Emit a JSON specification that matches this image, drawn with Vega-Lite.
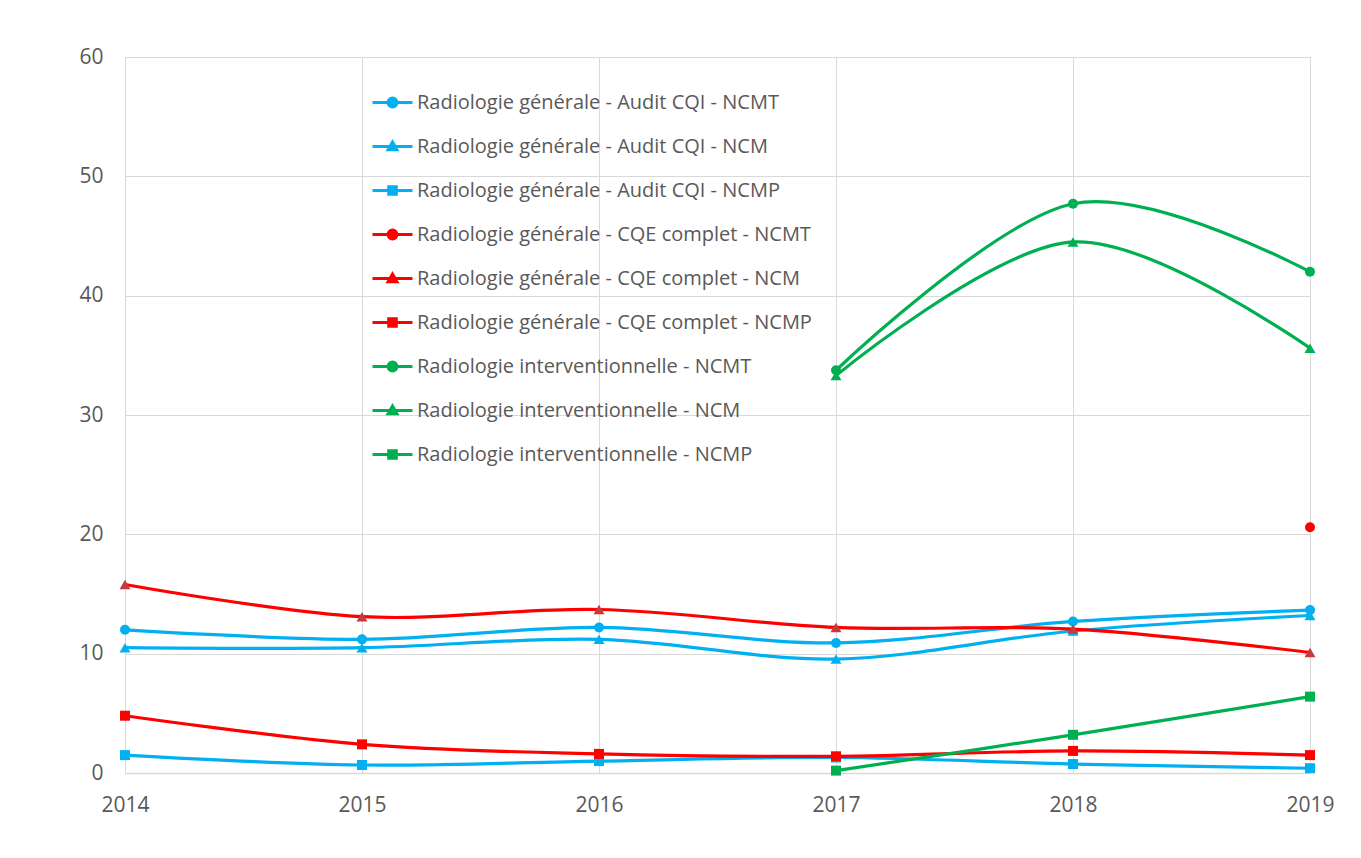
{
  "$schema": "https://vega.github.io/schema/vega-lite/v6.json",
  "width": 1185,
  "height": 716,
  "autosize": {"type": "none"},
  "padding": {"left": 125, "top": 57, "right": 51, "bottom": 85},
  "background": "white",
  "config": {
    "view": {"stroke": null},
    "font": "Open Sans",
    "axis": {"labelFont": "Open Sans", "labelFontSize": 21, "labelColor": "#595959", "gridColor": "#D9D9D9", "gridWidth": 1, "ticks": false},
    "legend": {"labelFont": "Open Sans", "labelFontSize": 20, "labelColor": "#595959"}
  },
  "data": {
    "values": [
      {"year": 2014, "series": "Radiologie générale - Audit CQI - NCMT", "value": 12.0},
      {"year": 2015, "series": "Radiologie générale - Audit CQI - NCMT", "value": 11.2},
      {"year": 2016, "series": "Radiologie générale - Audit CQI - NCMT", "value": 12.2},
      {"year": 2017, "series": "Radiologie générale - Audit CQI - NCMT", "value": 10.9},
      {"year": 2018, "series": "Radiologie générale - Audit CQI - NCMT", "value": 12.7},
      {"year": 2019, "series": "Radiologie générale - Audit CQI - NCMT", "value": 13.65},
      {"year": 2014, "series": "Radiologie générale - Audit CQI - NCM", "value": 10.5},
      {"year": 2015, "series": "Radiologie générale - Audit CQI - NCM", "value": 10.5},
      {"year": 2016, "series": "Radiologie générale - Audit CQI - NCM", "value": 11.2},
      {"year": 2017, "series": "Radiologie générale - Audit CQI - NCM", "value": 9.55},
      {"year": 2018, "series": "Radiologie générale - Audit CQI - NCM", "value": 11.9},
      {"year": 2019, "series": "Radiologie générale - Audit CQI - NCM", "value": 13.2},
      {"year": 2014, "series": "Radiologie générale - Audit CQI - NCMP", "value": 1.5},
      {"year": 2015, "series": "Radiologie générale - Audit CQI - NCMP", "value": 0.67},
      {"year": 2016, "series": "Radiologie générale - Audit CQI - NCMP", "value": 1.0},
      {"year": 2017, "series": "Radiologie générale - Audit CQI - NCMP", "value": 1.3},
      {"year": 2018, "series": "Radiologie générale - Audit CQI - NCMP", "value": 0.75},
      {"year": 2019, "series": "Radiologie générale - Audit CQI - NCMP", "value": 0.4},
      {"year": 2019, "series": "Radiologie générale - CQE complet - NCMT", "value": 20.6},
      {"year": 2014, "series": "Radiologie générale - CQE complet - NCM", "value": 15.8},
      {"year": 2015, "series": "Radiologie générale - CQE complet - NCM", "value": 13.1},
      {"year": 2016, "series": "Radiologie générale - CQE complet - NCM", "value": 13.7},
      {"year": 2017, "series": "Radiologie générale - CQE complet - NCM", "value": 12.2},
      {"year": 2018, "series": "Radiologie générale - CQE complet - NCM", "value": 12.06},
      {"year": 2019, "series": "Radiologie générale - CQE complet - NCM", "value": 10.1},
      {"year": 2014, "series": "Radiologie générale - CQE complet - NCMP", "value": 4.8},
      {"year": 2015, "series": "Radiologie générale - CQE complet - NCMP", "value": 2.4},
      {"year": 2016, "series": "Radiologie générale - CQE complet - NCMP", "value": 1.6},
      {"year": 2017, "series": "Radiologie générale - CQE complet - NCMP", "value": 1.4},
      {"year": 2018, "series": "Radiologie générale - CQE complet - NCMP", "value": 1.85},
      {"year": 2019, "series": "Radiologie générale - CQE complet - NCMP", "value": 1.5},
      {"year": 2017, "series": "Radiologie interventionnelle - NCMT", "value": 33.75},
      {"year": 2018, "series": "Radiologie interventionnelle - NCMT", "value": 47.7},
      {"year": 2019, "series": "Radiologie interventionnelle - NCMT", "value": 42.0},
      {"year": 2017, "series": "Radiologie interventionnelle - NCM", "value": 33.3},
      {"year": 2018, "series": "Radiologie interventionnelle - NCM", "value": 44.5},
      {"year": 2019, "series": "Radiologie interventionnelle - NCM", "value": 35.6},
      {"year": 2017, "series": "Radiologie interventionnelle - NCMP", "value": 0.2},
      {"year": 2018, "series": "Radiologie interventionnelle - NCMP", "value": 3.2},
      {"year": 2019, "series": "Radiologie interventionnelle - NCMP", "value": 6.4}
    ]
  },
  "encoding": {
    "x": {
      "field": "year", "type": "quantitative",
      "scale": {"domain": [2014, 2019], "nice": false, "zero": false},
      "axis": {"title": null, "values": [2014, 2015, 2016, 2017, 2018, 2019], "format": "d", "labelPadding": 21, "domainColor": "#D9D9D9", "domainWidth": 1.5, "labelFlush": false}
    },
    "y": {
      "field": "value", "type": "quantitative",
      "scale": {"domain": [0, 60], "nice": false},
      "axis": {"title": null, "values": [0, 10, 20, 30, 40, 50, 60], "labelPadding": 22, "domain": false}
    }
  },
  "layer": [
    {
      "mark": {"type": "line", "strokeWidth": 3.2, "interpolate": "cardinal"},
      "encoding": {
        "color": {
          "field": "series", "type": "nominal",
          "scale": {
            "domain": [
              "Radiologie générale - Audit CQI - NCMT",
              "Radiologie générale - Audit CQI - NCM",
              "Radiologie générale - Audit CQI - NCMP",
              "Radiologie générale - CQE complet - NCMT",
              "Radiologie générale - CQE complet - NCM",
              "Radiologie générale - CQE complet - NCMP",
              "Radiologie interventionnelle - NCMT",
              "Radiologie interventionnelle - NCM",
              "Radiologie interventionnelle - NCMP"
            ],
            "range": ["#00B0F0", "#00B0F0", "#00B0F0", "#FF0000", "#FF0000", "#FF0000", "#00B050", "#00B050", "#00B050"]
          },
          "legend": {
            "title": null,
            "orient": "none",
            "legendX": 246,
            "legendY": 24,
            "padding": 0,
            "symbolSize": 1600,
            "symbolStrokeWidth": 3,
            "rowPadding": 12,
            "labelOffset": 3,
            "labelFontSize": 20,
            "labelColor": "#595959",
            "labelLimit": 700,
            "encode": {
              "symbols": {
                "update": {
                  "shape": {"signal": "test(regexp('NCMT$'), datum.value) ? 'M-1,0H1M-0.22,0A0.22,0.22,0,1,0,0.22,0A0.22,0.22,0,1,0,-0.22,0Z' : (test(regexp('NCMP$'), datum.value) ? 'M-1,0H1M-0.19,-0.19H0.19V0.19H-0.19Z' : 'M-1,0H1M0,-0.22L0.22,0.16L-0.22,0.16Z')"},
                  "fill": {"signal": "datum.value === 'Radiologie générale - CQE complet - NCM' ? '#C8393B' : scale('color', datum.value)"},
                  "stroke": {"signal": "scale('color', datum.value)"},
                  "fillOpacity": {"value": 1},
                  "strokeOpacity": {"value": 1},
                  "opacity": {"value": 1}
                }
              }
            }
          }
        }
      }
    },
    {
      "transform": [{"filter": "test(regexp('NCMT$'), datum.series)"}],
      "mark": {"type": "point", "shape": "circle", "filled": true, "opacity": 1, "strokeWidth": 0, "size": 100},
      "encoding": {
        "color": {"field": "series", "type": "nominal", "legend": null}
      }
    },
    {
      "transform": [{"filter": "test(regexp('NCM$'), datum.series)"}],
      "mark": {"type": "point", "shape": "triangle-up", "filled": true, "opacity": 1, "strokeWidth": 0, "size": 120},
      "encoding": {
        "color": {
          "condition": {"test": "datum.series === 'Radiologie générale - CQE complet - NCM'", "value": "#C8393B"},
          "field": "series", "type": "nominal", "legend": null
        }
      }
    },
    {
      "transform": [{"filter": "test(regexp('NCMP$'), datum.series)"}],
      "mark": {"type": "point", "shape": "square", "filled": true, "opacity": 1, "strokeWidth": 0, "size": 100},
      "encoding": {
        "color": {"field": "series", "type": "nominal", "legend": null}
      }
    }
  ]
}
